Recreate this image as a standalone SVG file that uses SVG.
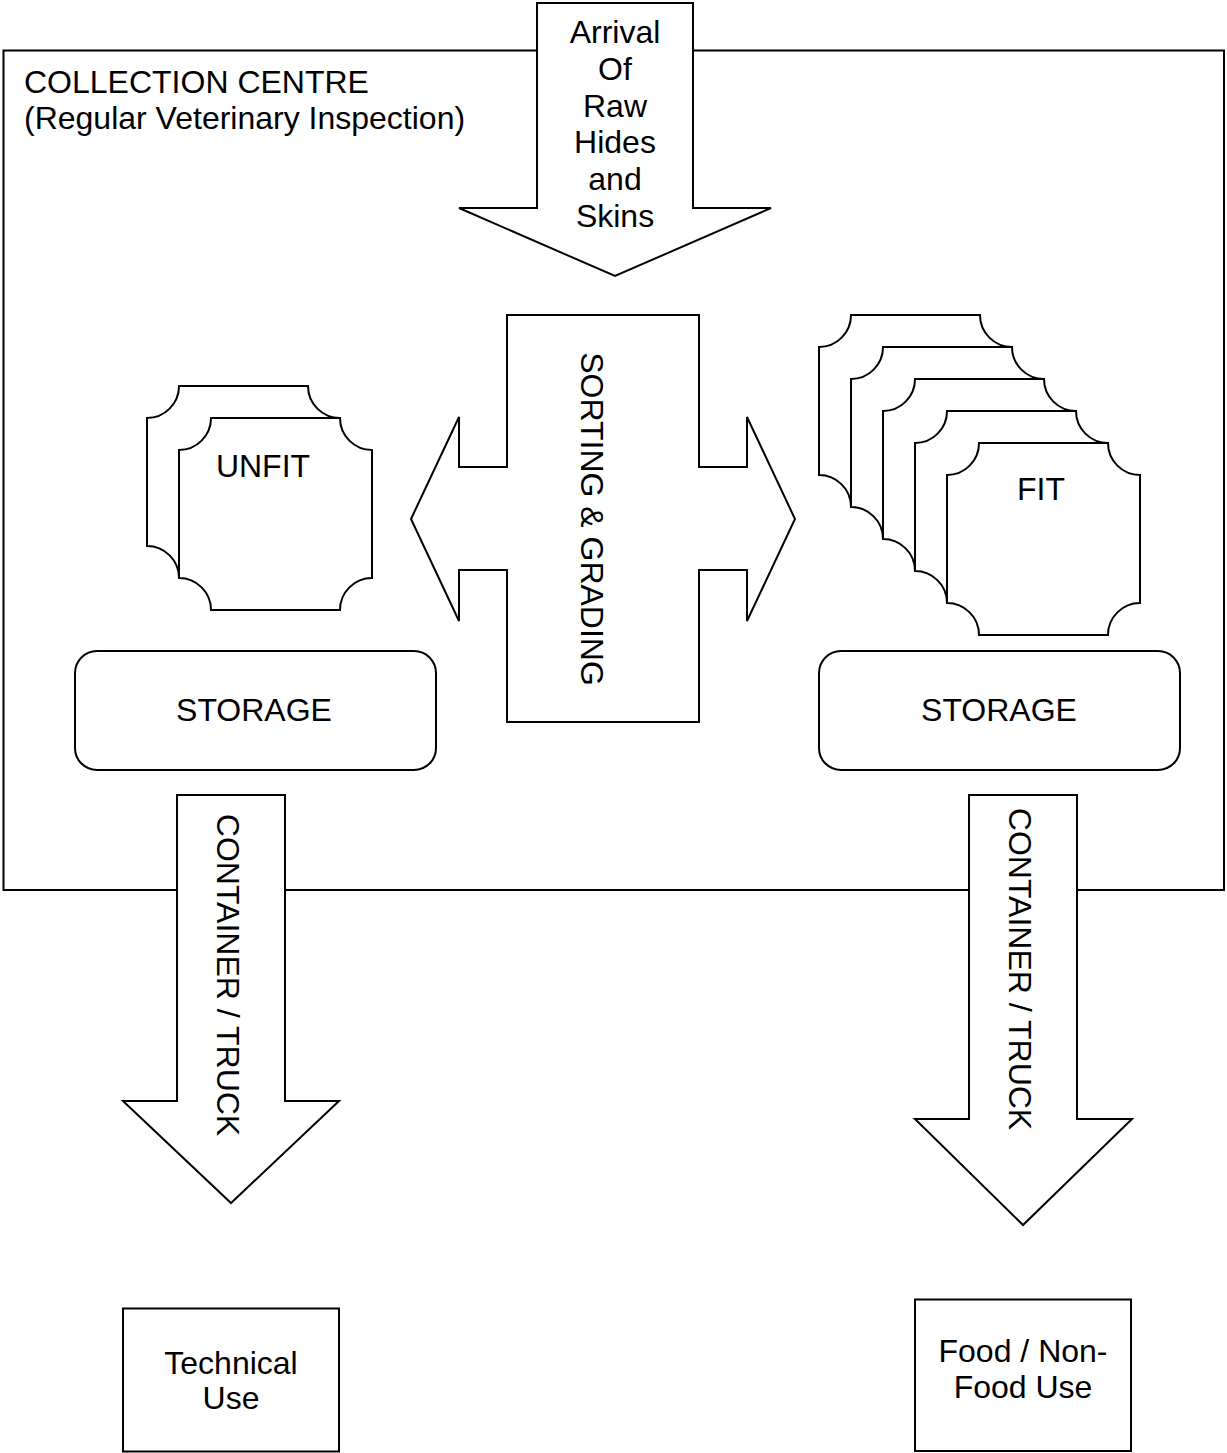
<svg xmlns="http://www.w3.org/2000/svg" width="1227" height="1453" viewBox="0 0 1227 1453">
<style>
.s{fill:#fff;stroke:#000;stroke-width:2;stroke-linejoin:miter}
.t{font-family:"Liberation Sans",Arial,sans-serif;font-size:32px;fill:#000}
.c{text-anchor:middle}
</style>
<defs>
<path id="plate" d="M32,0 H161 A32,32 0 0 0 193,32 V160 A32,32 0 0 0 161,192 H32 A32,32 0 0 0 0,160 V32 A32,32 0 0 0 32,0 Z"/>
</defs>
<rect width="1227" height="1453" fill="#fff"/>
<g id="collection-centre">
<rect class="s" x="3.5" y="50.5" width="1220.5" height="839.5" fill="none"/>
<text class="t" x="24" y="93">COLLECTION CENTRE</text>
<text class="t" x="24" y="129">(Regular Veterinary Inspection)</text>
</g>
<g id="unfit">
<use href="#plate" class="s" x="147" y="386"/>
<use href="#plate" class="s" x="179" y="418"/>
<text class="t c" x="263" y="477">UNFIT</text>
</g>
<g id="fit">
<use href="#plate" class="s" x="819" y="315"/>
<use href="#plate" class="s" x="851" y="347"/>
<use href="#plate" class="s" x="883" y="379"/>
<use href="#plate" class="s" x="915" y="411"/>
<use href="#plate" class="s" x="947" y="443"/>
<text class="t c" x="1041" y="500">FIT</text>
</g>
<g id="storage-unfit">
<rect class="s" x="75" y="651" width="361" height="119" rx="22"/>
<text class="t c" x="254" y="721">STORAGE</text>
</g>
<g id="storage-fit">
<rect class="s" x="819" y="651" width="361" height="119" rx="22"/>
<text class="t c" x="999" y="721">STORAGE</text>
</g>
<g id="sorting-grading">
<path class="s" d="M507,315 H699 V467 H747 V417 L795,519 L747,621 V570 H699 V722 H507 V570 H459 V621 L411,519 L459,417 V467 H507 Z"/>
<text class="t c" transform="translate(581,519) rotate(90)">SORTING &amp; GRADING</text>
</g>
<g id="technical-use">
<rect class="s" x="123" y="1308.5" width="216" height="143"/>
<text class="t c" x="231" y="1374">Technical</text>
<text class="t c" x="231" y="1409">Use</text>
</g>
<g id="food-use">
<rect class="s" x="915" y="1299.5" width="216" height="151.5"/>
<text class="t c" x="1023" y="1362">Food / Non-</text>
<text class="t c" x="1023" y="1398">Food Use</text>
</g>
<g id="connectors">
<g id="arrival-arrow">
<path class="s" d="M537,3 H693 V208 H771 L615,276 L459,208 H537 Z"/>
<text class="t c" x="615" y="43">Arrival</text>
<text class="t c" x="615" y="80">Of</text>
<text class="t c" x="615" y="117">Raw</text>
<text class="t c" x="615" y="153">Hides</text>
<text class="t c" x="615" y="190">and</text>
<text class="t c" x="615" y="227">Skins</text>
</g>
<g id="truck-unfit">
<path class="s" d="M177,795 H285 V1101 H339 L231,1203 L123,1101 H177 Z"/>
<text class="t c" transform="translate(217,975) rotate(90)">CONTAINER / TRUCK</text>
</g>
<g id="truck-fit">
<path class="s" d="M969,795 H1077 V1119 H1132 L1023,1225 L915,1119 H969 Z"/>
<text class="t c" transform="translate(1009,969) rotate(90)">CONTAINER / TRUCK</text>
</g>
</g>
</svg>
